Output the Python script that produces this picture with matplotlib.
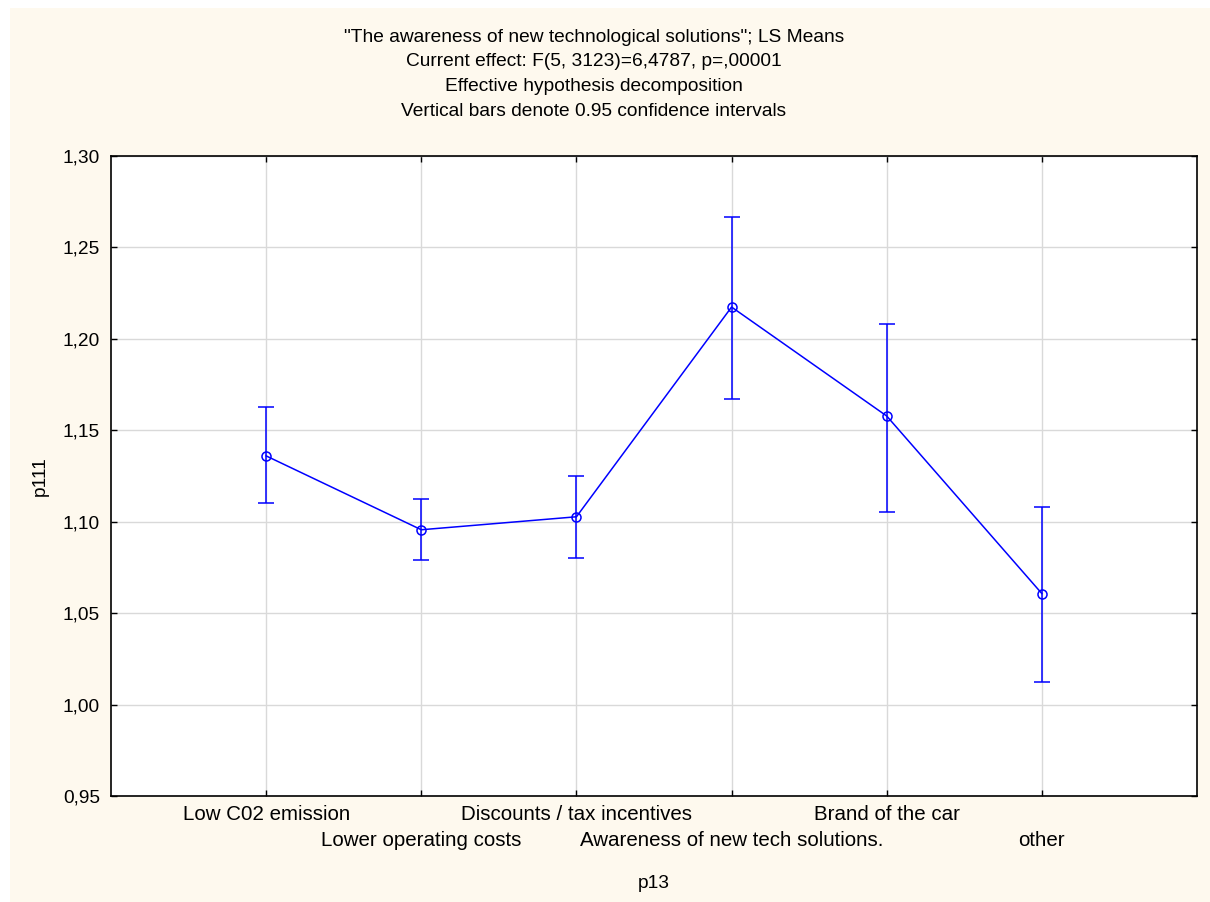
import matplotlib
matplotlib.use("Agg")
import matplotlib.pyplot as plt
import matplotlib.patches as mpatches
import numpy as np

plt.rcParams["font.family"] = ["Liberation Sans", "DejaVu Sans"]

categories = [
    "Low C02 emission",
    "Lower operating costs",
    "Discounts / tax incentives",
    "Awareness of new tech solutions.",
    "Brand of the car",
    "other",
]
means = [1.136, 1.0956, 1.1027, 1.2174, 1.1578, 1.0607]
ci_upper = [1.1626, 1.1124, 1.1250, 1.2667, 1.2081, 1.1078]
ci_lower = [1.1100, 1.0790, 1.0802, 1.1671, 1.1053, 1.0126]
y_ticks = [0.95, 1.00, 1.05, 1.10, 1.15, 1.20, 1.25, 1.30]

title_lines = [
    '"The awareness of new technological solutions"; LS Means',
    "Current effect: F(5, 3123)=6,4787, p=,00001",
    "Effective hypothesis decomposition",
    "Vertical bars denote 0.95 confidence intervals",
]

fs = 13.8

fig = plt.figure(figsize=(12.1, 9.02), dpi=100, facecolor="white")
# cream background panel
fig.patches.append(mpatches.Rectangle((10 / 1210, 0), 1 - 10 / 1210, 1 - 8 / 902,
                                      transform=fig.transFigure, facecolor="#fef9ee",
                                      edgecolor="none", zorder=-1))

ax = fig.add_axes([111 / 1210, 1 - 796 / 902, (1197 - 111) / 1210, (796 - 156) / 902])
ax.set_facecolor("white")

x = np.arange(len(categories))
means_arr = np.array(means)
yerr = [means_arr - np.array(ci_lower), np.array(ci_upper) - means_arr]

ax.errorbar(x, means, yerr=yerr, color="#0000ff", lw=1.1, elinewidth=1.1,
            capsize=5.5, capthick=1.1, marker="o", markersize=6.5,
            markerfacecolor="none", markeredgecolor="#0000ff", markeredgewidth=1.1,
            zorder=3)

ax.set_xlim(-1, 6)
ax.set_ylim(0.95, 1.30)
ax.set_yticks(y_ticks)
ax.set_yticklabels([f"{v:.2f}".replace(".", ",") for v in y_ticks], fontsize=fs)
ax.set_xticks(x)
ax.set_xticklabels([])

ax.grid(True, color="#d9d9d9", lw=1)
ax.set_axisbelow(True)
for s in ax.spines.values():
    s.set_color("black")
    s.set_linewidth(1.2)
ax.tick_params(direction="in", length=4, width=1, top=True, right=True, pad=8)

# staggered category labels
for i, lab in enumerate(categories):
    yoff = 815 if i % 2 == 0 else 841
    fig.text((111 + (i + 1) * (1197 - 111) / 7) / 1210, 1 - yoff / 902, lab,
             ha="center", va="center", fontsize=14.8)

fig.text((111 + 1197) / 2 / 1210, 1 - 883 / 902, "p13", ha="center", va="center", fontsize=fs)
fig.text(40 / 1210, 1 - 476 / 902, "p111", ha="center", va="center", rotation=90, fontsize=fs)

for i, t in enumerate(title_lines):
    fig.text(594 / 1210, 1 - (37 + i * 24.7) / 902, t, ha="center", va="center", fontsize=fs)

fig.savefig("out.png", dpi=100)
